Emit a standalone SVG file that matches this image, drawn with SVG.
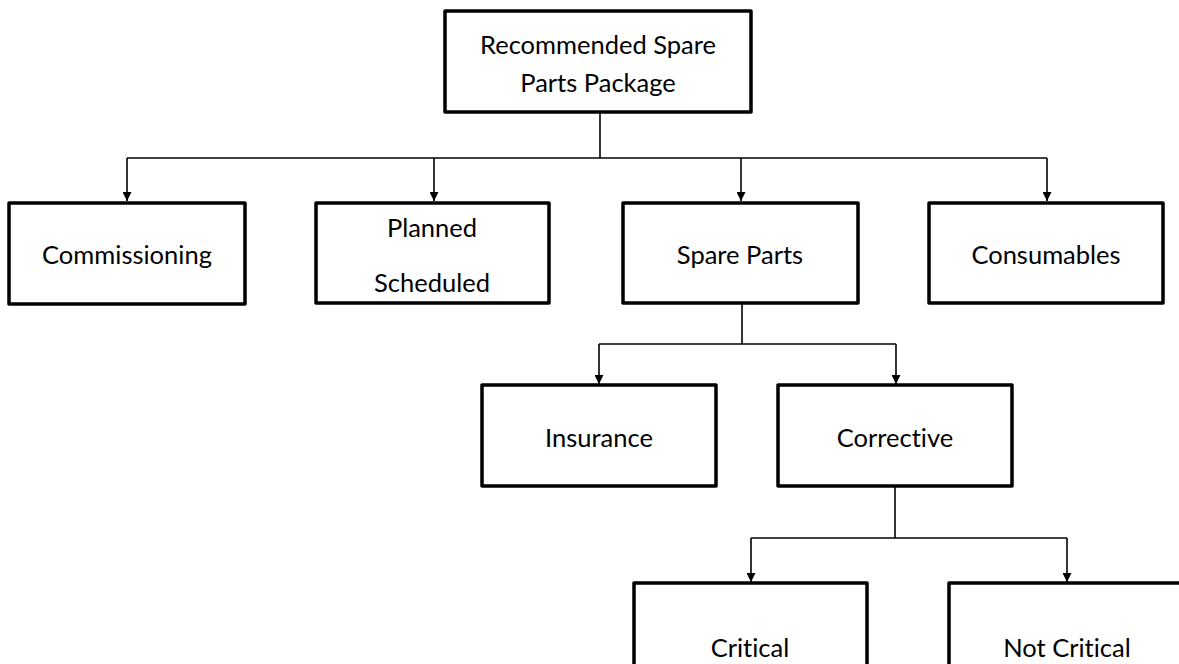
<svg xmlns="http://www.w3.org/2000/svg" width="1179" height="664" viewBox="0 0 1179 664">
<style>
.box{fill:#fff;stroke:#000;stroke-width:3.5;stroke-linejoin:round}
.lbl{font-family:Lato,"Liberation Sans",sans-serif;font-size:25.5px;fill:#000;text-anchor:middle;font-variant-ligatures:none}
.con{fill:none;stroke:#000;stroke-width:1.6}
</style>
<defs>
<marker id="arr" viewBox="0 0 10 10" refX="10" refY="5" markerWidth="9" markerHeight="9" markerUnits="userSpaceOnUse" orient="auto">
<path d="M0,0 L10,5 L0,10 z" fill="#000"/>
</marker>
</defs>
<rect width="1179" height="664" fill="#fff"/>
<g id="connectors">
<path class="con" d="M600,112 V158"/>
<path class="con" d="M127,158 H1047"/>
<path class="con" d="M127,158 V201" marker-end="url(#arr)"/>
<path class="con" d="M434,158 V201" marker-end="url(#arr)"/>
<path class="con" d="M741,158 V201" marker-end="url(#arr)"/>
<path class="con" d="M1047,158 V201" marker-end="url(#arr)"/>
<path class="con" d="M742,303 V344"/>
<path class="con" d="M599,344 H896"/>
<path class="con" d="M599,344 V384" marker-end="url(#arr)"/>
<path class="con" d="M896,344 V384" marker-end="url(#arr)"/>
<path class="con" d="M895,486 V538"/>
<path class="con" d="M751,538 H1067"/>
<path class="con" d="M751,538 V582" marker-end="url(#arr)"/>
<path class="con" d="M1067,538 V582" marker-end="url(#arr)"/>
</g>
<g id="root">
<rect class="box" x="445" y="11" width="306" height="101"/>
<text class="lbl" x="598" y="54">Recommended Spare</text>
<text class="lbl" x="598" y="92">Parts Package</text>
</g>
<g id="commissioning">
<rect class="box" x="9" y="203" width="236" height="101"/>
<text class="lbl" x="127" y="264">Commissioning</text>
</g>
<g id="planned">
<rect class="box" x="316" y="203" width="233" height="100"/>
<text class="lbl" x="432" y="237">Planned</text>
<text class="lbl" x="432" y="292">Scheduled</text>
</g>
<g id="spareparts">
<rect class="box" x="623" y="203" width="235" height="100"/>
<text class="lbl" x="740" y="264">Spare Parts</text>
</g>
<g id="consumables">
<rect class="box" x="929" y="203" width="234" height="100"/>
<text class="lbl" x="1046" y="264">Consumables</text>
</g>
<g id="insurance">
<rect class="box" x="482" y="385" width="234" height="101"/>
<text class="lbl" x="599" y="447">Insurance</text>
</g>
<g id="corrective">
<rect class="box" x="778" y="385" width="234" height="101"/>
<text class="lbl" x="895" y="447">Corrective</text>
</g>
<g id="critical">
<rect class="box" x="634" y="583" width="233" height="100"/>
<text class="lbl" x="750" y="657">Critical</text>
</g>
<g id="notcritical">
<rect class="box" x="949" y="583" width="240" height="100"/>
<text class="lbl" x="1067" y="657">Not Critical</text>
</g>
</svg>
